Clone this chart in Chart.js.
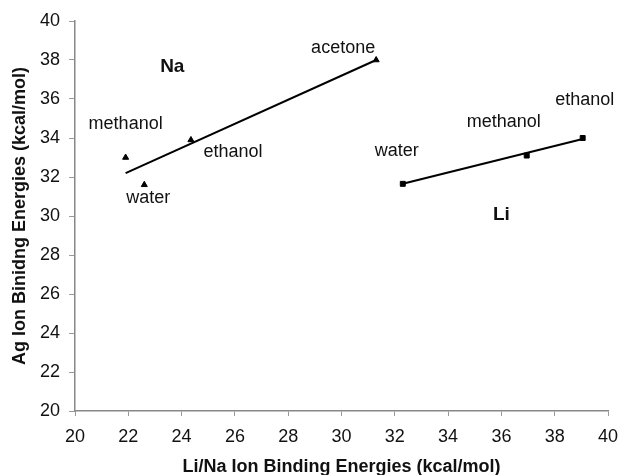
<!DOCTYPE html>
<html>
<head>
<meta charset="utf-8">
<script src="https://cdn.jsdelivr.net/npm/chart.js@4/dist/chart.umd.min.js"></script>
<style>
  body { margin: 0; background: #fff; }
  #chart { display: block; }
</style>
</head>
<body>
<canvas id="chart" width="621" height="475"></canvas>
<script>
// Na ion (triangles)
const naNames = ["methanol", "water", "ethanol", "acetone"];
const naX = [21.9, 22.6, 24.35, 31.3];
const naY = [33.0, 31.6, 33.9, 38.0];
const naTrendX = [21.9, 31.3];
const naTrendY = [32.2, 38.0];

// Li ion (squares)
const liNames = ["water", "methanol", "ethanol"];
const liX = [32.3, 36.95, 39.05];
const liY = [31.65, 33.1, 34.0];
const liTrendX = [32.3, 39.05];
const liTrendY = [31.65, 33.95];

const xTicks = [20, 22, 24, 26, 28, 30, 32, 34, 36, 38, 40];
const yTicks = [20, 22, 24, 26, 28, 30, 32, 34, 36, 38, 40];

function toPts(xs, ys) {
    return xs.map((x, i) => ({x: x, y: ys[i]}));
}

// pixel offsets of the point names, relative to their marker
const naOffsets = [[0, -33], [4, 13], [42, 12], [-33, -12]];
const liOffsets = [[-6, -33], [-23, -34], [2, -38]];
const groupLabels = [{text: "Na", x: 23.65, y: 37.65}, {text: "Li", x: 36.0, y: 30.05}];

const labelPlugin = {
    id: "pointNames",
    afterDatasetsDraw(chart) {
        const ctx = chart.ctx;
        const sx = chart.scales.x, sy = chart.scales.y;
        ctx.save();
        ctx.fillStyle = "#111";
        ctx.textAlign = "center";
        ctx.textBaseline = "middle";
        ctx.font = "18px 'Liberation Sans', Arial, sans-serif";
        naNames.forEach((n, i) => {
            ctx.fillText(n, sx.getPixelForValue(naX[i]) + naOffsets[i][0], sy.getPixelForValue(naY[i]) + naOffsets[i][1]);
        });
        liNames.forEach((n, i) => {
            ctx.fillText(n, sx.getPixelForValue(liX[i]) + liOffsets[i][0], sy.getPixelForValue(liY[i]) + liOffsets[i][1]);
        });
        ctx.font = "bold 19px 'Liberation Sans', Arial, sans-serif";
        groupLabels.forEach(g => {
            ctx.fillText(g.text, sx.getPixelForValue(g.x), sy.getPixelForValue(g.y));
        });
        ctx.restore();
    }
};

const tickFont = {family: "'Liberation Sans', Arial, sans-serif", size: 18};
const titleFont = {family: "'Liberation Sans', Arial, sans-serif", size: 18, weight: "bold"};

new Chart("chart", {
    type: "scatter",
    data: {
        datasets: [{
            label: "Na",
            data: toPts(naX, naY),
            pointStyle: "triangle",
            pointRadius: 3.5,
            backgroundColor: "#000",
            borderColor: "#000",
            borderWidth: 1
        }, {
            label: "Na trend",
            data: toPts(naTrendX, naTrendY),
            showLine: true,
            pointRadius: 0,
            borderColor: "#000",
            borderWidth: 2
        }, {
            label: "Li",
            data: toPts(liX, liY),
            pointStyle: "rect",
            pointRadius: 3.5,
            backgroundColor: "#000",
            borderColor: "#000",
            borderWidth: 1
        }, {
            label: "Li trend",
            data: toPts(liTrendX, liTrendY),
            showLine: true,
            pointRadius: 0,
            borderColor: "#000",
            borderWidth: 2
        }]
    },
    options: {
        responsive: false,
        animation: false,
        layout: {padding: {top: 21, right: 13, bottom: 0, left: 0}},
        plugins: {
            legend: {display: false},
            tooltip: {enabled: false}
        },
        scales: {
            x: {
                type: "linear",
                min: 20, max: 40,
                afterBuildTicks: s => { s.ticks = xTicks.map(v => ({value: v})); },
                afterFit: s => { s.height = 64; s.paddingLeft = 0; s.paddingRight = 0; },
                grid: {drawOnChartArea: false, tickLength: 5, color: "#999"},
                border: {color: "#888", width: 1.5},
                ticks: {color: "#111", font: tickFont, padding: 10},
                title: {display: true, text: "Li/Na Ion Binding Energies (kcal/mol)", color: "#111", font: titleFont, padding: {top: 0, bottom: -3}}
            },
            y: {
                type: "linear",
                min: 20, max: 40,
                afterBuildTicks: s => { s.ticks = yTicks.map(v => ({value: v})); },
                afterFit: s => { s.width = 75; },
                grid: {drawOnChartArea: false, tickLength: 6, color: "#999"},
                border: {color: "#888", width: 1.5},
                ticks: {color: "#111", font: tickFont, padding: 9},
                title: {display: true, text: "Ag Ion Binidng Energies (kcal/mol)", color: "#111", font: titleFont, padding: {top: 9, bottom: 0}}
            }
        }
    },
    plugins: [labelPlugin]
});
</script>
</body>
</html>
